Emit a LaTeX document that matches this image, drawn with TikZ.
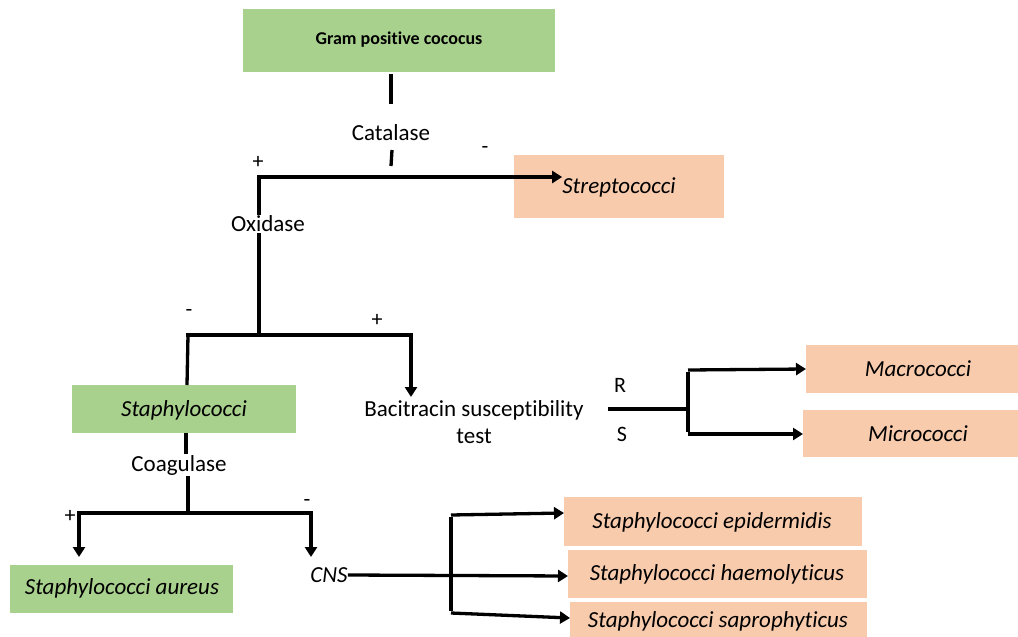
\documentclass[tikz,border=0pt]{standalone}
\usepackage{fontspec}
\setmainfont[Ligatures={NoCommon}]{Carlito}
\usetikzlibrary{arrows.meta}
\definecolor{gboxc}{HTML}{A9D18E}
\definecolor{oboxc}{HTML}{F8CBAD}
\begin{document}
\begin{tikzpicture}[x=1pt,y=-1pt,
  gbox/.style={fill=gboxc,draw=none},
  obox/.style={fill=oboxc,draw=none},
  lbl/.style={font=\fontsize{23}{27}\selectfont,inner sep=1pt},
  sgn/.style={font=\fontsize{22}{24}\selectfont,inner sep=0pt},
  itl/.style={font=\fontsize{23}{27}\selectfont\itshape,inner sep=0pt},
  ln/.style={line width=3.3pt},
  arr/.style={line width=3.3pt,-{Triangle[length=10pt,width=12pt]}}]
\useasboundingbox (0,0) rectangle (1018,637);
% boxes
\fill[gbox] (243,9) rectangle (555,72);
\node[font=\fontsize{18}{21}\selectfont\bfseries] (gram) at (399,40) {Gram positive cococus};
\fill[obox] (514,155) rectangle (724,218);
\node[itl] (strep) at (619,187) {Streptococci};
\fill[gbox] (72,385) rectangle (296,433);
\node[itl] (staph) at (184,410) {Staphylococci};
\fill[obox] (806,345) rectangle (1018,393);
\node[itl] (macro) at (918,369) {Macrococci};
\fill[obox] (803,410) rectangle (1018,457);
\node[itl] (micro) at (918,434) {Micrococci};
\fill[gbox] (10,565) rectangle (233,613);
\node[itl] (aureus) at (122,588) {Staphylococci aureus};
\fill[obox] (564,497) rectangle (862,546);
\node[itl] (epi) at (712,522) {Staphylococci epidermidis};
\fill[obox] (568,550) rectangle (867,598);
\node[itl] (haemo) at (717,574) {Staphylococci haemolyticus};
\fill[obox] (570,602) rectangle (867,640);
\node[itl] (sapro) at (718,621) {Staphylococci saprophyticus};
% labels
\node[lbl] (cat) at (391,133) {Catalase};
\node[lbl,fill=white] (oxi) at (268,224) {Oxidase};
\node[lbl,align=center] (baci) at (474,422) {Bacitracin susceptibility\\test};
\node[lbl] (coag) at (179,465) {Coagulase};
\node[itl] (cns) at (329,575) {CNS};
\node[lbl,font=\fontsize{22}{24}\selectfont] (R) at (620,385) {R};
\node[lbl,font=\fontsize{22}{24}\selectfont] (S) at (622,434) {S};
\node[sgn] (p1) at (258,162) {+};
\node[sgn] (m1) at (485,150) {-};
\node[sgn] (m2) at (189,313) {-};
\node[sgn] (p2) at (377,320) {+};
\node[sgn] (p3) at (70,516) {+};
\node[sgn] (m3) at (307,503) {-};
% coordinates
\coordinate (c1) at (259,177);
\coordinate (c2) at (259,335);
\coordinate (c3) at (188,335);
\coordinate (c4) at (411,335);
\coordinate (c5) at (688,409);
\coordinate (c6) at (688,370);
\coordinate (c7) at (688,434);
\coordinate (c8) at (188,513);
\coordinate (c9) at (79,513);
\coordinate (c10) at (311,513);
\coordinate (c11) at (451,515);
\coordinate (c12) at (451,613);
\coordinate (s1) at (186,433);
% connectors
\draw[ln] (391,74) -- (391,104);
\draw[ln] (392,150) -- (391,166);
\draw[arr] ([xshift=-1.65pt]c1) -- (strep.west|-c1);
\draw[ln] (c1) -- (c1|-oxi.north);
\draw[ln] (c2|-oxi.south) -- (c2);
\draw[ln] ([xshift=-1.65pt]c3) -- ([xshift=1.65pt]c4);
\draw[ln] (c3) -- (187,385);
\draw[arr] (c4) -- (411,397);
\draw[ln] (608,409) -- (c5);
\draw[ln] ([yshift=-1.65pt]c6) -- ([yshift=1.65pt]c7);
\draw[arr] (c6) -- (806,369);
\draw[arr] (c7) -- (803,434);
\draw[ln] (s1) -- (s1|-coag.north);
\draw[ln] (c8|-coag.south) -- (c8);
\draw[ln] ([xshift=-1.65pt]c9) -- ([xshift=1.65pt]c10);
\draw[arr] (c9) -- (79,557);
\draw[arr] (c10) -- (311,557);
\draw[arr] (cns.east) -- (568,576);
\draw[ln] ([yshift=-1.65pt]c11) -- ([yshift=1.65pt]c12);
\draw[arr] (c11) -- (564,513);
\draw[arr] (c12) -- (570,618);
\end{tikzpicture}
\end{document}
